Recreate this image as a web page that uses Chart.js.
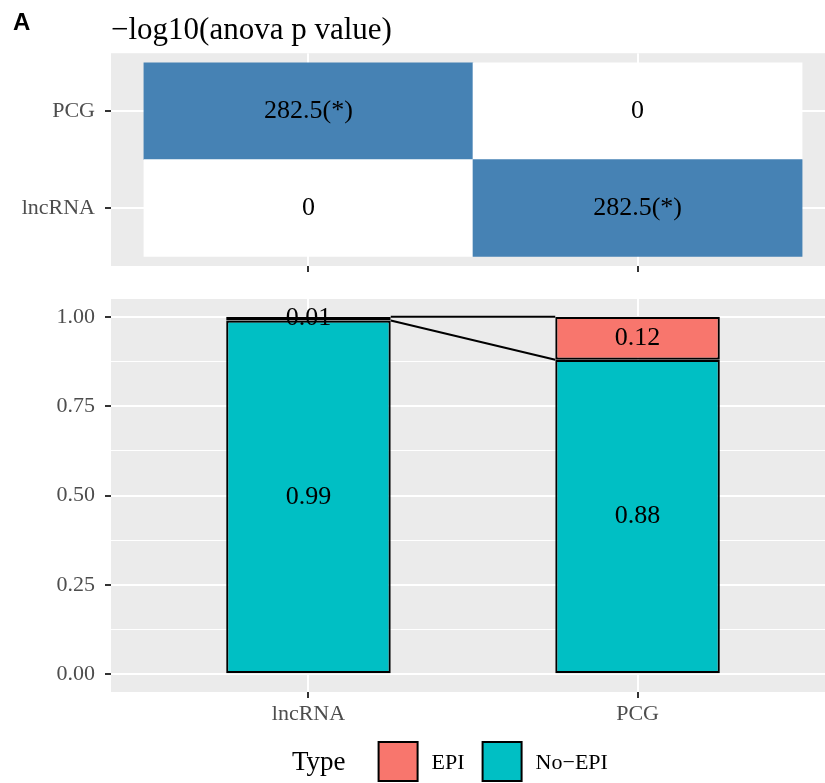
<!DOCTYPE html>
<html>
<head>
<meta charset="utf-8">
<script src="https://cdn.jsdelivr.net/npm/chart.js@4.4.0/dist/chart.umd.min.js"></script>
<style>
    html, body { margin: 0; padding: 0; background: #fff; overflow: hidden; }
    #wrap { position: relative; width: 825px; height: 783px; overflow: hidden; }
    #heatCanvas { position: absolute; left: 0; top: 0; }
    #barCanvas { position: absolute; left: 0; top: 285px; }
</style>
</head>
<body>
<div id="wrap">
    <canvas id="heatCanvas" width="835" height="285"></canvas>
    <canvas id="barCanvas" width="835" height="498"></canvas>
</div>
<script>
// categories shared by both panels (x axis)
const categories = ['lncRNA', 'PCG'];

// top panel: -log10(anova p value), rows from bottom to top
const heatRows = ['lncRNA', 'PCG'];
const heatLncRNA = [0, 282.5];
const heatPCG = [282.5, 0];
const sigLncRNA = [false, true];
const sigPCG = [true, false];

// bottom panel: fraction per type
const types = ['EPI', 'No\u2212EPI'];
const epiValues = [0.01, 0.12];
const noEpiValues = [0.99, 0.88];
const yTickValues = [0, 0.125, 0.25, 0.375, 0.5, 0.625, 0.75, 0.875, 1];
const yMajorTicks = [0, 0.25, 0.5, 0.75, 1];

const SERIF = '"Liberation Serif", "Times New Roman", serif';
const PANEL_BG = '#EBEBEB';
const AXIS_TEXT = '#4D4D4D';
const typeColors = { 'EPI': '#F8766D', 'No\u2212EPI': '#00BFC4' };

Chart.defaults.font.family = SERIF;
Chart.defaults.animation = false;

// fixed axis size, no extra label padding
function fixSize(prop, size) {
    return s => {
        s[prop] = size;
        s.paddingTop = 0;
        s.paddingBottom = 0;
        s.paddingLeft = 0;
        s.paddingRight = 0;
    };
}

// grey panel background behind the grid
const panelBg = {
    id: 'panelBg',
    beforeDraw(chart) {
        const { ctx, chartArea: a } = chart;
        ctx.save();
        ctx.fillStyle = PANEL_BG;
        ctx.fillRect(a.left, a.top, a.right - a.left, a.bottom - a.top);
        ctx.restore();
    }
};

// white -> steelblue
const heatMax = Math.max(...heatLncRNA, ...heatPCG);
function heatColor(v) {
    const t = v / heatMax;
    const r = Math.round(255 + (70 - 255) * t);
    const g = Math.round(255 + (130 - 255) * t);
    const b = Math.round(255 + (180 - 255) * t);
    return `rgb(${r}, ${g}, ${b})`;
}

const heatSets = [heatLncRNA, heatPCG];
const heatSig = [sigLncRNA, sigPCG];

const heatText = {
    id: 'heatText',
    afterDatasetsDraw(chart) {
        const ctx = chart.ctx;
        ctx.save();
        ctx.font = `26px ${SERIF}`;
        ctx.fillStyle = '#000';
        ctx.textAlign = 'center';
        ctx.textBaseline = 'middle';
        chart.data.datasets.forEach((ds, r) => {
            chart.getDatasetMeta(r).data.forEach((el, c) => {
                const v = heatSets[r][c];
                const label = v === 0 ? '0' : v.toFixed(1) + (heatSig[r][c] ? '(*)' : '');
                ctx.fillText(label, el.x, (el.y + el.base) / 2);
            });
        });
        // panel tag
        ctx.font = 'bold 24px "Liberation Sans", Arial, sans-serif';
        ctx.textAlign = 'left';
        ctx.textBaseline = 'alphabetic';
        ctx.fillText('A', 13, 30);
        ctx.restore();
    }
};

new Chart(document.getElementById('heatCanvas'), {
    type: 'bar',
    data: {
        datasets: heatSets.map((vals, r) => ({
            label: heatRows[r],
            data: vals.map((v, c) => ({ x: c + 1, y: [r + 0.5, r + 1.5] })),
            backgroundColor: vals.map(heatColor),
            borderWidth: 0,
            barPercentage: 1,
            categoryPercentage: 1,
            grouped: false
        }))
    },
    options: {
        responsive: false,
        layout: { padding: 0 },
        plugins: {
            legend: { display: false },
            tooltip: { enabled: false },
            title: {
                display: true,
                text: '\u2212log10(anova p value)',
                align: 'start',
                fullSize: false,
                color: '#000',
                font: { family: SERIF, size: 31, weight: 'normal' },
                padding: { top: 12, bottom: 4 }
            }
        },
        scales: {
            x: {
                type: 'linear',
                min: 0.4,
                max: 2.6,
                offset: false,
                afterBuildTicks: s => { s.ticks = [1, 2].map(v => ({ value: v })); },
                ticks: { display: false },
                grid: { offset: false, color: '#fff', lineWidth: 2, tickColor: '#333', tickWidth: 2, tickLength: 6 },
                border: { display: false },
                afterFit: fixSize('height', 19)
            },
            y: {
                type: 'linear',
                min: 0.4,
                max: 2.6,
                afterBuildTicks: s => { s.ticks = [1, 2].map(v => ({ value: v })); },
                ticks: {
                    callback: (v, i) => heatRows[i],
                    color: AXIS_TEXT,
                    font: { size: 22 },
                    padding: 10
                },
                grid: { color: '#fff', lineWidth: 2, tickColor: '#333', tickWidth: 2, tickLength: 6 },
                border: { display: false },
                afterFit: fixSize('width', 111)
            }
        }
    },
    plugins: [panelBg, heatText]
});

// bottom panel
const HALF_BAR = 0.25;
const topTotals = noEpiValues.map((v, i) => v + epiValues[i]);

const barText = {
    id: 'barText',
    afterDatasetsDraw(chart) {
        const ctx = chart.ctx;
        ctx.save();
        ctx.font = `26px ${SERIF}`;
        ctx.fillStyle = '#000';
        ctx.textAlign = 'center';
        ctx.textBaseline = 'middle';
        chart.data.datasets.forEach((ds, d) => {
            if (ds.type === 'line') return;
            chart.getDatasetMeta(d).data.forEach((el, i) => {
                ctx.fillText(ds.data[i].y.toFixed(2), el.x, (el.y + el.base) / 2);
            });
        });
        ctx.restore();
    }
};

const typeLegend = {
    id: 'typeLegend',
    afterDraw(chart) {
        const ctx = chart.ctx;
        const base = 484;
        let x = 292;
        ctx.save();
        ctx.textBaseline = 'alphabetic';
        ctx.fillStyle = '#000';
        ctx.font = `27px ${SERIF}`;
        ctx.fillText('Type', x, base + 1);
        x += ctx.measureText('Type').width + 33;
        ctx.font = `22px ${SERIF}`;
        types.forEach(t => {
            ctx.fillStyle = typeColors[t];
            ctx.fillRect(x, 457, 39, 39);
            ctx.strokeStyle = '#000';
            ctx.lineWidth = 2;
            ctx.strokeRect(x, 457, 39, 39);
            x += 39 + 14;
            ctx.fillStyle = '#000';
            ctx.fillText(t, x, base);
            x += ctx.measureText(t).width + 18;
        });
        ctx.restore();
    }
};

const barStyle = {
    type: 'bar',
    borderColor: '#000',
    borderWidth: 2.2,
    borderSkipped: false,
    barPercentage: 0.5,
    categoryPercentage: 1,
    stack: 'frac'
};

new Chart(document.getElementById('barCanvas'), {
    type: 'bar',
    data: {
        datasets: [
            {
                type: 'line',
                label: 'top',
                data: [{ x: 1 + HALF_BAR, y: topTotals[0] }, { x: 2 - HALF_BAR, y: topTotals[1] }],
                borderColor: '#000',
                borderWidth: 2,
                pointRadius: 0,
                fill: false,
                stack: 'line1',
                order: -1
            },
            {
                type: 'line',
                label: 'boundary',
                data: [{ x: 1 + HALF_BAR, y: noEpiValues[0] }, { x: 2 - HALF_BAR, y: noEpiValues[1] }],
                borderColor: '#000',
                borderWidth: 2,
                pointRadius: 0,
                fill: false,
                stack: 'line2',
                order: -1
            },
            Object.assign({}, barStyle, {
                label: types[1],
                data: categories.map((c, i) => ({ x: i + 1, y: noEpiValues[i] })),
                backgroundColor: typeColors[types[1]]
            }),
            Object.assign({}, barStyle, {
                label: types[0],
                data: categories.map((c, i) => ({ x: i + 1, y: epiValues[i] })),
                backgroundColor: typeColors[types[0]]
            })
        ]
    },
    options: {
        responsive: false,
        layout: { padding: { top: 14, right: 0, left: 0, bottom: 0 } },
        plugins: {
            legend: { display: false },
            tooltip: { enabled: false }
        },
        scales: {
            x: {
                type: 'linear',
                min: 0.4,
                max: 2.6,
                offset: false,
                afterBuildTicks: s => { s.ticks = categories.map((c, i) => ({ value: i + 1 })); },
                ticks: {
                    callback: (v, i) => categories[i],
                    color: AXIS_TEXT,
                    font: { size: 22 },
                    padding: 3,
                    maxRotation: 0
                },
                grid: { offset: false, color: '#fff', lineWidth: 2, tickColor: '#333', tickWidth: 2, tickLength: 6 },
                border: { display: false },
                afterFit: fixSize('height', 91)
            },
            y: {
                type: 'linear',
                stacked: true,
                min: -0.05,
                max: 1.05,
                afterBuildTicks: s => { s.ticks = yTickValues.map(v => ({ value: v })); },
                ticks: {
                    callback: (v, i, ticks) => {
                        const val = ticks[i].value;
                        return yMajorTicks.includes(val) ? val.toFixed(2) : '';
                    },
                    color: AXIS_TEXT,
                    font: { size: 22 },
                    padding: 10
                },
                grid: {
                    color: '#fff',
                    lineWidth: c => yMajorTicks.includes(c.tick.value) ? 2 : 1,
                    tickColor: c => yMajorTicks.includes(c.tick.value) ? '#333' : 'rgba(0,0,0,0)',
                    tickWidth: 2,
                    tickLength: 6
                },
                border: { display: false },
                afterFit: fixSize('width', 111)
            }
        }
    },
    plugins: [panelBg, barText, typeLegend]
});
</script>
</body>
</html>
